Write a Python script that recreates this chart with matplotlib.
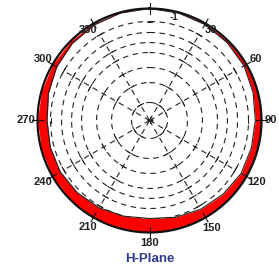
import numpy as np
import matplotlib
matplotlib.use("Agg")
import matplotlib.pyplot as plt

plt.rcParams['font.family'] = ['Liberation Sans', 'DejaVu Sans']

# Pattern (normalized radius) read at 15 degree steps
angles_deg = [0, 15, 30, 45, 60, 75, 90, 105, 120, 135, 150, 165,
              180, 195, 210, 225, 240, 255, 270, 285, 300, 315, 330, 345]
pattern = [1.0, 0.995, 0.99, 0.982, 0.975, 0.958, 0.945, 0.942, 0.945, 0.93, 0.915, 0.895,
           0.875, 0.885, 0.9, 0.912, 0.92, 0.918, 0.915, 0.935, 0.958, 0.975, 0.987, 0.995]

ring_radii = [0.884, 0.786, 0.696, 0.607, 0.473, 0.339, 0.161]
spoke_angles = [30, 60, 120, 150, 210, 240, 300, 330]
tick_labels = ['30', '60', '90', '120', '150', '180', '210', '240', '270', '300', '330']
tick_label_angles = [34, 60, 90, 120, 150, 180, 210, 240, 270, 300, 326]
tick_label_r = [0.975, 1.1, 1.08, 1.1, 1.11, 1.09, 1.1, 1.1, 1.1, 1.1, 0.975]
title = 'H-Plane'

fig = plt.figure(figsize=(2.79, 2.66), dpi=100)
ax = fig.add_axes([0.1344, 0.126, 0.803, 0.842], projection='polar')
ax.set_theta_zero_location('N')
ax.set_theta_direction(-1)
ax.set_ylim(0, 1)
ax.set_xticks([])
ax.set_yticks([])
ax.grid(False)
ax.spines['polar'].set_visible(False)
ax.patch.set_alpha(0)

th = np.radians(np.array(angles_deg + [360]))
pr = np.array(pattern + [pattern[0]])
ax.fill_between(th, pr, 1.0, color='#ff0000', lw=0, zorder=2)
ax.plot(th, pr, color='#222222', lw=0.8, zorder=3)

full = np.linspace(0, 2 * np.pi, 361)
ax.plot(full, np.ones_like(full), color='#111111', lw=1.6, zorder=4, clip_on=False)

for r in ring_radii:
    ax.plot(full, np.full_like(full, r), color='#222222', lw=0.8,
            linestyle=(0, (5, 4)), zorder=1)

for a in spoke_angles:
    t = np.radians(a)
    ax.plot([t, t], [0, ring_radii[0]], color='#222222', lw=0.8,
            linestyle=(0, (5, 4)), zorder=1)
    for r in ring_radii:
        ax.plot([t - 0.03 / r, t + 0.03 / r], [r, r], color='#222222', lw=0.7, zorder=1)

for a in range(0, 360, 30):
    t = np.radians(a)
    ax.plot([t, t], [0.955, 1.045], color='#111111', lw=0.8, zorder=4, clip_on=False)
    ax.plot([t - 0.025 / ring_radii[0], t + 0.025 / ring_radii[0]],
            [ring_radii[0], ring_radii[0]], color='#222222', lw=0.7, zorder=1)

ax.plot([0], [0], marker='+', color='#222222', ms=5, mew=0.8, zorder=3)

for lab, a, r in zip(tick_labels, tick_label_angles, tick_label_r):
    ax.text(np.radians(a), r, lab, ha='center', va='center', fontsize=8,
            fontweight='bold', color='#222222', zorder=5)

ax.text(np.radians(13), 0.95, '-1', ha='center', va='center', fontsize=7,
        fontweight='bold', color='#222222', zorder=5)

fig.text(149.5 / 279, 1 - 259.5 / 266, title, ha='center', va='center',
         fontsize=9.5, fontweight='bold', color='#2b3a8f')

fig.savefig('out.png', dpi=100)
